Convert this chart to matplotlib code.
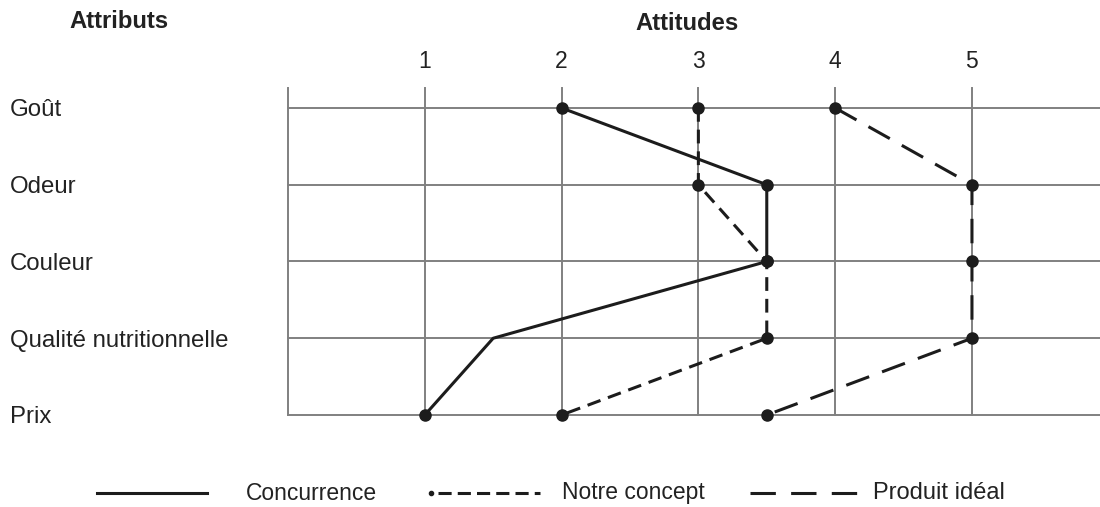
import matplotlib
matplotlib.use("Agg")
import matplotlib.pyplot as plt
import matplotlib.transforms as mtransforms

plt.rcParams["font.family"] = ["Liberation Sans", "DejaVu Sans"]

# Attributes, top to bottom
attributs = ["Goût", "Odeur", "Couleur", "Qualité nutritionnelle", "Prix"]
echelle = [1, 2, 3, 4, 5]

# Attitude scores per attribute (same order as attributs)
concurrence = [2, 3.5, 3.5, 1.5, 1]
notre_concept = [3, 3, 3.5, 3.5, 2]
produit_ideal = [4, 5, 5, 5, 3.5]

series_labels = ["Concurrence", "Notre concept", "Produit idéal"]

INK = "#1c1c1c"
TXT = "#222222"
GRID = "#808080"
FS = 16.5
FS_ROW = 17.3

W, H = 1100, 507
fig = plt.figure(figsize=(W / 100, H / 100), dpi=100)
fig.patch.set_facecolor("white")

# main plotting area (pixel bounds converted to figure fractions)
left_px, right_px, top_px, bottom_px = 288, 1100, 88, 415
ax = fig.add_axes([left_px / W, 1 - bottom_px / H,
                   (right_px - left_px) / W, (bottom_px - top_px) / H])
n = len(attributs)
ypos = [n - 1 - i for i in range(n)]
xmax = 5.936
ymax = (n - 1) + 0.26
ax.set_xlim(0, xmax)
ax.set_ylim(0, ymax)
ax.axis("off")

# grid
for xv in [0] + echelle:
    ax.plot([xv, xv], [0, ymax], color=GRID, lw=1.4, zorder=1, clip_on=False)
for yv in ypos:
    ax.plot([0, xmax], [yv, yv], color=GRID, lw=1.4, zorder=1, clip_on=False)

# series
lw = 2.2
ax.plot(concurrence, ypos, color=INK, lw=lw, ls="-", zorder=3,
        solid_capstyle="round", solid_joinstyle="round", clip_on=False)
ax.plot(notre_concept, ypos, color=INK, lw=lw, ls=(0, (4.5, 2.6)), zorder=3,
        clip_on=False)
ax.plot(produit_ideal, ypos, color=INK, lw=lw, ls=(0, (8, 4.5)), zorder=3,
        clip_on=False)

# point markers (the bend on the nutrition row has none)
ms = 8
conc_marked = [i for i in range(n) if i != 3]
ax.plot([concurrence[i] for i in conc_marked], [ypos[i] for i in conc_marked],
        ls="none", marker="o", ms=ms, color=INK, zorder=4, clip_on=False)
ax.plot(notre_concept, ypos, ls="none", marker="o", ms=ms, color=INK,
        zorder=4, clip_on=False)
ax.plot(produit_ideal, ypos, ls="none", marker="o", ms=ms, color=INK,
        zorder=4, clip_on=False)

# scale labels above the grid
px_y = mtransforms.blended_transform_factory(ax.transData, fig.transFigure)
for v in echelle:
    ax.text(v, 1 - 62 / H, str(v), transform=px_y, ha="center", va="center",
            fontsize=FS, color=TXT)

# attribute labels
fx_dy = mtransforms.blended_transform_factory(fig.transFigure, ax.transData)
row_shift = 0.03
for lab, yv in zip(attributs, ypos):
    ax.text(10 / W, yv - row_shift, lab, transform=fx_dy, ha="left",
            va="center", fontsize=FS_ROW, color=TXT)

# headers
fig.text(119 / W, 1 - 22 / H, "Attributs", ha="center", va="center",
         fontsize=17.2, fontweight="bold", color=TXT)
fig.text(687 / W, 1 - 24 / H, "Attitudes", ha="center", va="center",
         fontsize=17.2, fontweight="bold", color=TXT)

# legend drawn in pixel space along the bottom
lg = fig.add_axes([0, 0, 1, 1], facecolor="none")
lg.set_xlim(0, W)
lg.set_ylim(H, 0)
lg.axis("off")
ly = 493
lg.plot([97, 207], [ly, ly], color=INK, lw=lw, ls="-")
lg.text(246, ly, series_labels[0], ha="left", va="center", fontsize=FS,
        color=TXT)
lg.plot([431], [ly], marker="o", ms=3, color=INK, ls="none")
lg.plot([438, 540], [ly, ly], color=INK, lw=lw, ls=(0, (4.3, 2.0)))
lg.text(562, ly, series_labels[1], ha="left", va="center", fontsize=FS,
        color=TXT)
lg.plot([750, 857], [ly, ly], color=INK, lw=lw, ls=(0, (8.3, 5)))
lg.text(873, ly, series_labels[2], ha="left", va="center", fontsize=17,
        color=TXT)

fig.savefig("out.png", dpi=100, facecolor="white")
